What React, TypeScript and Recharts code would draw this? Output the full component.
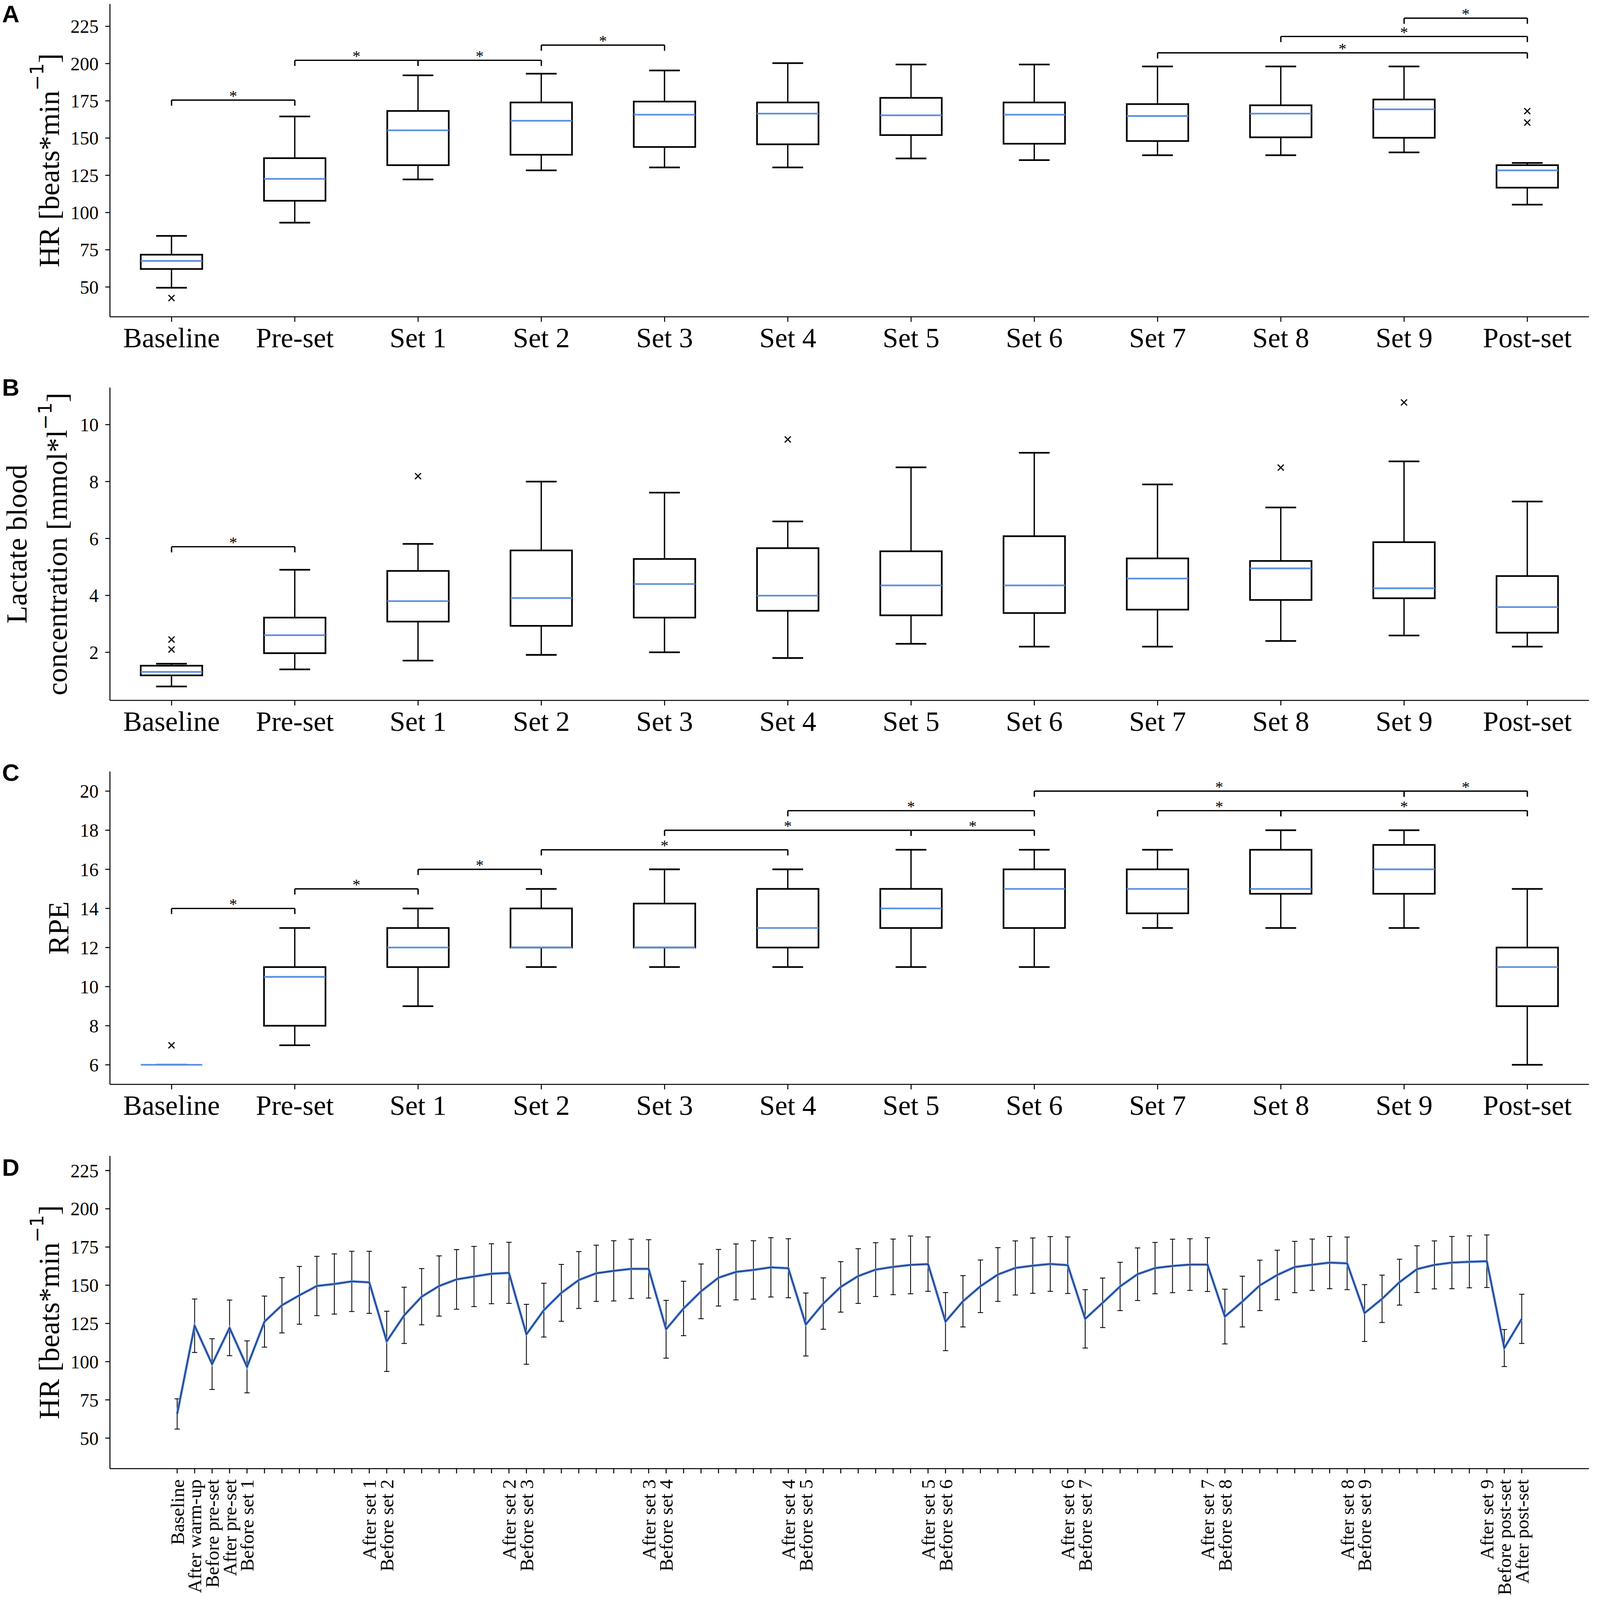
import React from 'react';
import {
  ComposedChart,
  Bar,
  XAxis,
  YAxis,
  ReferenceLine,
  LineChart,
  Line,
  ErrorBar,
} from 'recharts';

const SERIF = '"Liberation Serif", "Times New Roman", serif';
const SANS = '"Liberation Sans", Arial, sans-serif';
const SUPFONT = '"DejaVu Sans", sans-serif';
const BLUE = '#5B8FE3';

// ---------- shared categories ----------
const categories = ['Baseline', 'Pre-set', 'Set 1', 'Set 2', 'Set 3', 'Set 4', 'Set 5', 'Set 6', 'Set 7', 'Set 8', 'Set 9', 'Post-set'];

// ---------- Panel A: HR box plots ----------
const hrLow = [49.5, 93.2, 122.2, 128.3, 130.3, 130.3, 136.3, 135.2, 138.5, 138.5, 140.4, 105.3];
const hrQ1 = [62.1, 107.9, 131.8, 138.8, 144.0, 145.8, 152.0, 146.2, 148.0, 150.5, 150.2, 116.7];
const hrMedian = [67.5, 122.6, 155.2, 161.6, 165.7, 166.4, 165.3, 165.7, 164.8, 166.4, 169.3, 128.3];
const hrQ3 = [71.7, 136.5, 168.2, 173.9, 174.5, 173.9, 177.0, 173.9, 172.8, 172.0, 175.9, 131.8];
const hrHigh = [84.3, 164.5, 192.1, 193.2, 195.4, 200.3, 199.4, 199.4, 198.1, 198.1, 198.1, 133.3];
const hrOutliers = [[42.6], [], [], [], [], [], [], [], [], [], [], [168.1, 160.4]];
const hrTicks = [50, 75, 100, 125, 150, 175, 200, 225];
const hrDomain = [30, 240];
const hrBrackets = [
  { from: 'Baseline', to: 'Pre-set', y: 175.5 },
  { from: 'Pre-set', to: 'Set 1', y: 202.2 },
  { from: 'Set 1', to: 'Set 2', y: 202.2 },
  { from: 'Set 2', to: 'Set 3', y: 212.4 },
  { from: 'Set 7', to: 'Post-set', y: 207.2 },
  { from: 'Set 8', to: 'Post-set', y: 218.2 },
  { from: 'Set 9', to: 'Post-set', y: 230.5 },
];

// ---------- Panel B: lactate box plots ----------
const laLow = [0.8, 1.4, 1.71, 1.91, 2.0, 1.8, 2.3, 2.2, 2.2, 2.4, 2.59, 2.2];
const laQ1 = [1.19, 1.97, 3.08, 2.93, 3.22, 3.46, 3.3, 3.38, 3.5, 3.84, 3.9, 2.69];
const laMedian = [1.31, 2.6, 3.8, 3.91, 4.4, 3.99, 4.35, 4.35, 4.59, 4.95, 4.25, 3.59];
const laQ3 = [1.53, 3.22, 4.86, 5.58, 5.28, 5.66, 5.55, 6.08, 5.3, 5.21, 5.87, 4.68];
const laHigh = [1.6, 4.9, 5.81, 8.0, 7.61, 6.6, 8.5, 9.01, 7.9, 7.09, 8.71, 7.3];
const laOutliers = [[2.45, 2.1], [], [8.19], [], [], [9.48], [], [], [], [8.49], [10.78], []];
const laTicks = [2, 4, 6, 8, 10];
const laDomain = [0.31, 11.3];
const laBrackets = [{ from: 'Baseline', to: 'Pre-set', y: 5.71 }];

// ---------- Panel C: RPE box plots ----------
const rpeLow = [6, 7, 9, 11, 11, 11, 11, 11, 13, 13, 13, 6];
const rpeQ1 = [6, 8, 11, 12, 12, 12, 13, 13, 13.75, 14.75, 14.75, 9];
const rpeMedian = [6, 10.5, 12, 12, 12, 13, 14, 15, 15, 15, 16, 11];
const rpeQ3 = [6, 11, 13, 14, 14.25, 15, 15, 16, 16, 17, 17.25, 12];
const rpeHigh = [6, 13, 14, 15, 16, 16, 17, 17, 17, 18, 18, 15];
const rpeOutliers = [[7], [], [], [], [], [], [], [], [], [], [], []];
const rpeTicks = [6, 8, 10, 12, 14, 16, 18, 20];
const rpeDomain = [5.0, 21.0];
const rpeBrackets = [
  { from: 'Baseline', to: 'Pre-set', y: 14 },
  { from: 'Pre-set', to: 'Set 1', y: 15 },
  { from: 'Set 1', to: 'Set 2', y: 16 },
  { from: 'Set 2', to: 'Set 4', y: 17 },
  { from: 'Set 3', to: 'Set 5', y: 18 },
  { from: 'Set 5', to: 'Set 6', y: 18 },
  { from: 'Set 4', to: 'Set 6', y: 19 },
  { from: 'Set 7', to: 'Set 8', y: 19 },
  { from: 'Set 8', to: 'Post-set', y: 19 },
  { from: 'Set 6', to: 'Set 9', y: 20 },
  { from: 'Set 9', to: 'Post-set', y: 20 },
];

// ---------- Panel D: HR time course (mean ± SD) ----------
const dMean = [
  65.8, 123.5, 98.4, 122.1, 96.6, 126.2, 136.9, 143.4, 149.5, 150.8, 152.5, 151.9,
  113.3, 130.3, 142.5, 149.5, 153.8, 155.7, 157.5, 158.1,
  117.9, 133.7, 145.0, 153.4, 157.8, 159.4, 160.7, 160.7,
  121.2, 134.8, 146.0, 154.9, 158.7, 160.0, 161.7, 161.1,
  124.3, 138.0, 148.9, 156.0, 160.2, 162.0, 163.3, 163.8,
  126.2, 139.5, 149.3, 157.0, 161.3, 162.8, 163.9, 163.1,
  128.0, 138.5, 149.2, 157.2, 161.2, 162.6, 163.5, 163.5,
  129.5, 139.3, 149.9, 156.7, 161.9, 163.4, 164.8, 164.3,
  131.8, 141.1, 152.0, 160.5, 163.3, 164.8, 165.3, 165.7,
  108.9, 128.0,
];
const dSD = [
  9.9, 17.5, 16.6, 18.2, 17.0, 16.7, 18.1, 18.9, 19.4, 19.7, 19.7, 20.3,
  19.7, 18.4, 18.4, 19.7, 19.5, 19.7, 19.6, 20.0,
  19.6, 17.6, 18.6, 18.6, 18.4, 19.7, 19.4, 19.1,
  18.9, 17.8, 17.9, 18.5, 18.3, 19.1, 19.4, 19.3,
  20.6, 16.8, 16.5, 17.9, 17.6, 18.2, 18.9, 17.8,
  19.0, 16.8, 17.2, 17.6, 17.7, 18.1, 17.9, 18.5,
  19.1, 16.2, 15.8, 17.2, 16.8, 17.5, 16.9, 17.6,
  17.9, 16.6, 16.5, 16.2, 16.8, 16.8, 17.1, 17.2,
  18.6, 15.5, 15.0, 15.3, 15.7, 17.1, 17.0, 17.2,
  12.1, 16.1,
];
const dNamedTicks: [number, string][] = [
  [0, 'Baseline'], [1, 'After warm-up'], [2, 'Before pre-set'], [3, 'After pre-set'], [4, 'Before set 1'],
  [11, 'After set 1'], [12, 'Before set 2'], [19, 'After set 2'], [20, 'Before set 3'],
  [27, 'After set 3'], [28, 'Before set 4'], [35, 'After set 4'], [36, 'Before set 5'],
  [43, 'After set 5'], [44, 'Before set 6'], [51, 'After set 6'], [52, 'Before set 7'],
  [59, 'After set 7'], [60, 'Before set 8'], [67, 'After set 8'], [68, 'Before set 9'],
  [75, 'After set 9'], [76, 'Before post-set'], [77, 'After post-set'],
];
const dTicksY = [50, 75, 100, 125, 150, 175, 200, 225];
const dDomainY = [30, 234.6];
const dDomainX = [-3.85, 80.85];

// ---------- helpers ----------
const buildBoxRows = (lo: number[], q1: number[], med: number[], q3: number[], hi: number[], out: number[][]) =>
  categories.map((cat, i) => {
    const all = [lo[i], hi[i], ...out[i]];
    return {
      cat,
      lo: lo[i],
      q1: q1[i],
      med: med[i],
      q3: q3[i],
      hi: hi[i],
      out: out[i],
      span: [Math.min(...all), Math.max(...all)],
    };
  });

const rowsA = buildBoxRows(hrLow, hrQ1, hrMedian, hrQ3, hrHigh, hrOutliers);
const rowsB = buildBoxRows(laLow, laQ1, laMedian, laQ3, laHigh, laOutliers);
const rowsC = buildBoxRows(rpeLow, rpeQ1, rpeMedian, rpeQ3, rpeHigh, rpeOutliers);

const dLabelMap: Record<number, string> = {};
dNamedTicks.forEach(([i, l]) => {
  dLabelMap[i] = l;
});
const rowsD = dMean.map((m, i) => ({ idx: i, mean: m, sd: dSD[i] }));
const dTickIdx = dMean.map((_, i) => i);

const BoxShape = (props: any) => {
  const { x, y, width, height, payload } = props;
  if (!payload || width == null || y == null) return null;
  const top = Math.min(y, y + height);
  const bottom = Math.max(y, y + height);
  const [s0, s1] = payload.span;
  const k = s1 > s0 ? (bottom - top) / (s1 - s0) : 0;
  const py = (v: number) => bottom - (v - s0) * k;
  const cx = x + width / 2;
  const cw = width / 4;
  const r = 9;
  return (
    <g>
      <line x1={cx} x2={cx} y1={py(payload.q3)} y2={py(payload.hi)} stroke="#000" strokeWidth={4} />
      <line x1={cx} x2={cx} y1={py(payload.q1)} y2={py(payload.lo)} stroke="#000" strokeWidth={4} />
      <line x1={cx - cw} x2={cx + cw} y1={py(payload.hi)} y2={py(payload.hi)} stroke="#000" strokeWidth={5} />
      <line x1={cx - cw} x2={cx + cw} y1={py(payload.lo)} y2={py(payload.lo)} stroke="#000" strokeWidth={5} />
      <rect
        x={x}
        y={py(payload.q3)}
        width={width}
        height={Math.max(0, py(payload.q1) - py(payload.q3))}
        fill="none"
        stroke="#000"
        strokeWidth={5}
      />
      <line x1={x} x2={x + width} y1={py(payload.med)} y2={py(payload.med)} stroke={BLUE} strokeWidth={5} />
      {payload.out.map((v: number, i: number) => {
        const oy = py(v);
        return (
          <g key={i}>
            <line x1={cx - r} y1={oy - r} x2={cx + r} y2={oy + r} stroke="#000" strokeWidth={3.5} />
            <line x1={cx - r} y1={oy + r} x2={cx + r} y2={oy - r} stroke="#000" strokeWidth={3.5} />
          </g>
        );
      })}
    </g>
  );
};

// rotated y-axis label with optional superscript
const YLabel = (props: any) => {
  const { viewBox, lines, fallbackCy } = props;
  const cy = viewBox && viewBox.height ? viewBox.y + viewBox.height / 2 : fallbackCy;
  return (
    <g>
      {lines.map((ln: any, i: number) => (
        <text
          key={i}
          x={ln.x}
          y={cy}
          transform={`rotate(-90 ${ln.x} ${cy})`}
          textAnchor="middle"
          fontFamily={SERIF}
          fontSize={87}
          fill="#000"
        >
          {ln.text}
          {ln.sup ? (
            <tspan fontFamily={SUPFONT} fontSize={56} dy={-46}>
              {ln.sup}
            </tspan>
          ) : null}
          {ln.after ? <tspan dy={46}>{ln.after}</tspan> : null}
        </text>
      ))}
    </g>
  );
};

const DTick = (props: any) => {
  const { x, y, payload } = props;
  const label = dLabelMap[payload.value];
  if (!label) return null;
  return (
    <text
      x={x}
      y={y}
      transform={`rotate(-90 ${x} ${y})`}
      textAnchor="end"
      dy="0.35em"
      fontSize={57}
      fontFamily={SERIF}
      fill="#000"
    >
      {label}
    </text>
  );
};

const PLOT_H = 936;

const BoxPanel = ({ rows, domain, ticks, brackets, top, marginTop, height, label }: any) => {
  const drop = (domain[1] - domain[0]) * 0.018;
  return (
    <div style={{ position: 'absolute', left: 0, top, width: 4764, height }}>
      <ComposedChart
        width={4764}
        height={height}
        data={rows}
        margin={{ top: marginTop, right: 9, left: 0, bottom: 0 }}
        barCategoryGap="25%"
      >
        <XAxis
          dataKey="cat"
          type="category"
          interval={0}
          height={height - marginTop - PLOT_H}
          tickSize={15}
          tickMargin={16}
          tick={{ fontSize: 84, fill: '#000', fontFamily: SERIF }}
          tickLine={{ stroke: '#000', strokeWidth: 3 }}
          axisLine={{ stroke: '#000', strokeWidth: 3 }}
        />
        <XAxis
          xAxisId="top"
          orientation="top"
          dataKey="cat"
          type="category"
          height={0}
          tick={false}
          tickLine={false}
          axisLine={{ stroke: '#000', strokeWidth: 3 }}
        />
        <YAxis
          type="number"
          domain={domain}
          ticks={ticks}
          interval={0}
          width={329}
          tickSize={14}
          tickMargin={20}
          tick={{ fontSize: 56, fill: '#000', fontFamily: SERIF }}
          tickLine={{ stroke: '#000', strokeWidth: 3 }}
          axisLine={{ stroke: '#000', strokeWidth: 3 }}
          label={label}
        />
        <YAxis
          yAxisId="r"
          orientation="right"
          width={0}
          tick={false}
          tickLine={false}
          axisLine={{ stroke: '#000', strokeWidth: 3 }}
        />
        <Bar dataKey="span" shape={<BoxShape />} isAnimationActive={false} />
        {brackets.map((b: any, i: number) => (
          <ReferenceLine
            key={`h${i}`}
            segment={[{ x: b.from, y: b.y }, { x: b.to, y: b.y }]}
            stroke="#000"
            strokeWidth={4}
            ifOverflow="visible"
            label={{ value: '*', position: 'top', offset: -3, fontSize: 48, fill: '#000', fontFamily: SERIF }}
          />
        ))}
        {brackets.map((b: any, i: number) => (
          <ReferenceLine
            key={`l${i}`}
            segment={[{ x: b.from, y: b.y }, { x: b.from, y: b.y - drop }]}
            stroke="#000"
            strokeWidth={4}
            ifOverflow="visible"
          />
        ))}
        {brackets.map((b: any, i: number) => (
          <ReferenceLine
            key={`r${i}`}
            segment={[{ x: b.to, y: b.y }, { x: b.to, y: b.y - drop }]}
            stroke="#000"
            strokeWidth={4}
            ifOverflow="visible"
          />
        ))}
      </ComposedChart>
    </div>
  );
};

const hrLines = [{ x: 176, text: 'HR [beats*min', sup: '\u22121', after: ']' }];
const laLines = [
  { x: 80, text: 'Lactate blood' },
  { x: 200, text: 'concentration [mmol*l', sup: '\u22121', after: ']' },
];
const rpeLines = [{ x: 205, text: 'RPE' }];

// The capture area is limited to 4096 px, so the whole 4764x4788 figure is scaled to fit it.
const FIG_W = 4764;
const FIG_H = 4788;
const FIT = 4096 / FIG_H;

export default function App() {
  const dTop = 3400;
  const dMarginTop = 59;
  const dHeight = FIG_H - dTop;
  return (
    <div style={{ position: 'absolute', left: 0, top: 0, width: Math.floor(FIG_W * FIT), height: 4096, background: '#fff', overflow: 'hidden' }}>
      <div
        style={{
          position: 'absolute',
          left: 0,
          top: 0,
          width: FIG_W,
          height: FIG_H,
          background: '#fff',
          transform: `scale(${FIT})`,
          transformOrigin: '0 0',
        }}
      >
        <BoxPanel
          rows={rowsA}
          domain={hrDomain}
          ticks={hrTicks}
          brackets={hrBrackets}
          top={0}
          marginTop={12}
          height={1100}
          label={<YLabel lines={hrLines} fallbackCy={480} />}
        />
        <BoxPanel
          rows={rowsB}
          domain={laDomain}
          ticks={laTicks}
          brackets={laBrackets}
          top={1100}
          marginTop={60}
          height={1150}
          label={<YLabel lines={laLines} fallbackCy={528} />}
        />
        <BoxPanel
          rows={rowsC}
          domain={rpeDomain}
          ticks={rpeTicks}
          brackets={rpeBrackets}
          top={2250}
          marginTop={59}
          height={1150}
          label={<YLabel lines={rpeLines} fallbackCy={527} />}
        />
        <div style={{ position: 'absolute', left: 0, top: dTop, width: FIG_W, height: dHeight }}>
          <LineChart width={FIG_W} height={dHeight} data={rowsD} margin={{ top: dMarginTop, right: 9, left: 0, bottom: 0 }}>
            <XAxis
              dataKey="idx"
              type="number"
              domain={dDomainX}
              ticks={dTickIdx}
              interval={0}
              height={dHeight - dMarginTop - PLOT_H}
              tickSize={14}
              tickMargin={18}
              tick={<DTick />}
              tickLine={{ stroke: '#000', strokeWidth: 3 }}
              axisLine={{ stroke: '#000', strokeWidth: 3 }}
            />
            <XAxis
              xAxisId="top"
              orientation="top"
              dataKey="idx"
              type="number"
              domain={dDomainX}
              height={0}
              tick={false}
              tickLine={false}
              axisLine={{ stroke: '#000', strokeWidth: 3 }}
            />
            <YAxis
              type="number"
              domain={dDomainY}
              ticks={dTicksY}
              interval={0}
              width={329}
              tickSize={14}
              tickMargin={20}
              tick={{ fontSize: 56, fill: '#000', fontFamily: SERIF }}
              tickLine={{ stroke: '#000', strokeWidth: 3 }}
              axisLine={{ stroke: '#000', strokeWidth: 3 }}
              label={<YLabel lines={hrLines} fallbackCy={527} />}
            />
            <YAxis
              yAxisId="r"
              orientation="right"
              width={0}
              tick={false}
              tickLine={false}
              axisLine={{ stroke: '#000', strokeWidth: 3 }}
            />
            <Line dataKey="mean" name="err" stroke="none" dot={false} isAnimationActive={false}>
              <ErrorBar dataKey="sd" width={8} strokeWidth={2.5} stroke="#000" direction="y" />
            </Line>
            <Line dataKey="mean" name="meanBlue" stroke={BLUE} strokeWidth={7.5} dot={false} isAnimationActive={false} />
            <Line dataKey="mean" name="meanCore" stroke="#1a2a66" strokeWidth={2.5} dot={false} isAnimationActive={false} />
          </LineChart>
        </div>
        <svg width={FIG_W} height={FIG_H} style={{ position: 'absolute', left: 0, top: 0, pointerEvents: 'none' }}>
          <text x={6} y={67} fontFamily={SANS} fontWeight="bold" fontSize={72} fill="#000">A</text>
          <text x={6} y={1184} fontFamily={SANS} fontWeight="bold" fontSize={72} fill="#000">B</text>
          <text x={6} y={2337} fontFamily={SANS} fontWeight="bold" fontSize={72} fill="#000">C</text>
          <text x={6} y={3518} fontFamily={SANS} fontWeight="bold" fontSize={72} fill="#000">D</text>
        </svg>
      </div>
    </div>
  );
}
